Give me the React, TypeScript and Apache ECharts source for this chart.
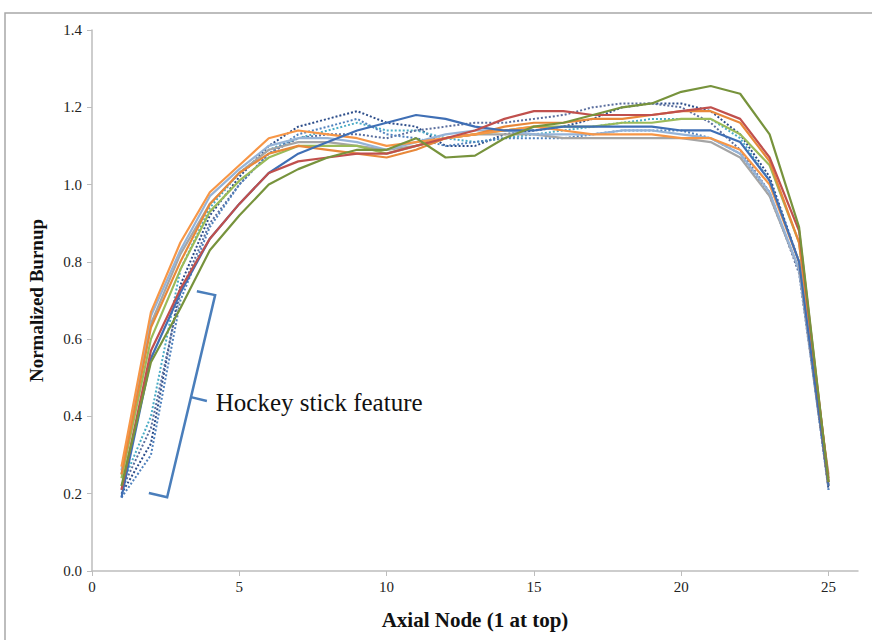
import React, { useEffect, useRef } from "react";
import * as echarts from "echarts";

const nodes = [1, 2, 3, 4, 5, 6, 7, 8, 9, 10, 11, 12, 13, 14, 15, 16, 17, 18, 19, 20, 21, 22, 23, 24, 25];
const xTicks = [0, 5, 10, 15, 20, 25];

const blueSolid = [0.19, 0.55, 0.72, 0.86, 0.95, 1.03, 1.08, 1.11, 1.14, 1.16, 1.18, 1.17, 1.15, 1.14, 1.14, 1.15, 1.15, 1.15, 1.15, 1.14, 1.14, 1.11, 1.01, 0.8, 0.22];
const redSolid = [0.21, 0.57, 0.73, 0.86, 0.95, 1.03, 1.06, 1.07, 1.08, 1.08, 1.1, 1.12, 1.14, 1.17, 1.19, 1.19, 1.18, 1.18, 1.18, 1.19, 1.2, 1.17, 1.07, 0.88, 0.23];
const oliveSolid = [0.22, 0.54, 0.68, 0.83, 0.92, 1.0, 1.04, 1.07, 1.09, 1.09, 1.12, 1.07, 1.075, 1.12, 1.15, 1.16, 1.18, 1.2, 1.21, 1.24, 1.255, 1.235, 1.13, 0.89, 0.23];
const greenSolid = [0.24, 0.6, 0.78, 0.93, 1.01, 1.07, 1.1, 1.1, 1.1, 1.08, 1.1, 1.12, 1.13, 1.14, 1.15, 1.15, 1.15, 1.16, 1.16, 1.17, 1.17, 1.13, 1.05, 0.85, 0.23];
const orangeSolid = [0.27, 0.67, 0.85, 0.98, 1.05, 1.12, 1.14, 1.13, 1.12, 1.1, 1.11, 1.12, 1.13, 1.14, 1.15, 1.14, 1.13, 1.13, 1.13, 1.12, 1.12, 1.09, 1.0, 0.8, 0.22];
const darkOrangeSolid = [0.25, 0.63, 0.8, 0.95, 1.03, 1.08, 1.1, 1.09, 1.08, 1.07, 1.09, 1.12, 1.13, 1.15, 1.16, 1.16, 1.17, 1.17, 1.18, 1.19, 1.19, 1.16, 1.06, 0.85, 0.24];
const lightBlueSolid = [0.26, 0.66, 0.83, 0.97, 1.04, 1.1, 1.12, 1.12, 1.11, 1.09, 1.11, 1.13, 1.14, 1.14, 1.13, 1.13, 1.13, 1.14, 1.14, 1.13, 1.12, 1.08, 0.98, 0.78, 0.24];
const graySolid = [0.25, 0.64, 0.82, 0.95, 1.03, 1.09, 1.11, 1.11, 1.1, 1.09, 1.1, 1.12, 1.13, 1.13, 1.13, 1.12, 1.12, 1.12, 1.12, 1.12, 1.11, 1.07, 0.97, 0.78, 0.25];
const navyDotted = [0.2, 0.33, 0.74, 0.92, 1.02, 1.1, 1.15, 1.17, 1.19, 1.16, 1.15, 1.1, 1.1, 1.13, 1.14, 1.15, 1.17, 1.2, 1.21, 1.21, 1.19, 1.13, 1.02, 0.8, 0.21];
const aquaDotted = [0.22, 0.4, 0.78, 0.94, 1.03, 1.09, 1.12, 1.14, 1.16, 1.14, 1.14, 1.12, 1.11, 1.12, 1.13, 1.14, 1.15, 1.16, 1.17, 1.17, 1.17, 1.12, 1.01, 0.8, 0.22];
const slateDotted = [0.21, 0.37, 0.72, 0.9, 1.0, 1.08, 1.12, 1.13, 1.13, 1.12, 1.14, 1.15, 1.16, 1.16, 1.17, 1.18, 1.2, 1.21, 1.21, 1.2, 1.16, 1.09, 0.98, 0.77, 0.22];
const blueDotted = [0.19, 0.3, 0.7, 0.89, 1.0, 1.08, 1.13, 1.15, 1.17, 1.13, 1.12, 1.1, 1.11, 1.12, 1.12, 1.12, 1.13, 1.14, 1.14, 1.14, 1.12, 1.08, 0.97, 0.78, 0.21];

const seriesDefs = [
  { name: "S9", values: navyDotted, color: "#2C4D8A", dotted: true },
  { name: "S10", values: aquaDotted, color: "#4BACC6", dotted: true },
  { name: "S11", values: slateDotted, color: "#5A6E9E", dotted: true },
  { name: "S12", values: blueDotted, color: "#4F81BD", dotted: true },
  { name: "S8", values: graySolid, color: "#A5A5A5", dotted: false },
  { name: "S7", values: lightBlueSolid, color: "#95B3D7", dotted: false },
  { name: "S4", values: greenSolid, color: "#9BBB59", dotted: false },
  { name: "S6", values: darkOrangeSolid, color: "#E8883A", dotted: false },
  { name: "S5", values: orangeSolid, color: "#F79646", dotted: false },
  { name: "S1", values: blueSolid, color: "#3F6FB5", dotted: false },
  { name: "S2", values: redSolid, color: "#C0504D", dotted: false },
  { name: "S3", values: oliveSolid, color: "#77933C", dotted: false },
];

// bracket annotation in data coordinates
const bracketPts = [
  [3.56, 0.724],
  [4.18, 0.714],
  [3.36, 0.45],
  [2.55, 0.191],
  [1.93, 0.202],
];
const bracketStub = [
  [3.36, 0.45],
  [3.9, 0.44],
];
const annotationAt = [4.2, 0.437];
const annotationText = "Hockey stick feature";

export default function App() {
  const ref = useRef<HTMLDivElement>(null);
  useEffect(() => {
    document.body.style.margin = "0";
    if (!ref.current) return;
    const chart = echarts.init(ref.current, undefined, { renderer: "svg" });
    const serif = "Liberation Serif, Times New Roman, serif";
    chart.setOption({
      animation: false,
      backgroundColor: "#ffffff",
      grid: { left: 92, right: 14, top: 30, bottom: 69 },
      xAxis: {
        type: "value",
        min: 0,
        max: 26,
        interval: 5,
        name: "Axial Node (1 at top)",
        nameLocation: "middle",
        nameGap: 38,
        nameTextStyle: { fontFamily: serif, fontWeight: "bold", fontSize: 21, color: "#111" },
        axisLine: { lineStyle: { color: "#BDBDBD", width: 1.5 } },
        axisTick: { show: true, length: 5, customValues: xTicks, lineStyle: { color: "#BDBDBD" } },
        axisLabel: { customValues: xTicks, fontFamily: serif, fontSize: 15, color: "#222", margin: 8 },
        splitLine: { show: false },
      },
      yAxis: {
        type: "value",
        min: 0,
        max: 1.4,
        interval: 0.2,
        name: "Normalized Burnup",
        nameLocation: "middle",
        nameGap: 46,
        nameTextStyle: { fontFamily: serif, fontWeight: "bold", fontSize: 19, color: "#111" },
        axisLine: { show: true, lineStyle: { color: "#BDBDBD", width: 1.5 } },
        axisTick: { show: true, length: 5, lineStyle: { color: "#BDBDBD" } },
        axisLabel: {
          fontFamily: serif,
          fontSize: 15,
          color: "#222",
          margin: 10,
          formatter: (v: number) => v.toFixed(1),
        },
        splitLine: { show: false },
      },
      series: seriesDefs.map((s) => ({
        name: s.name,
        type: "line",
        data: nodes.map((n, i) => [n, s.values[i]]),
        showSymbol: false,
        symbol: "none",
        lineStyle: { color: s.color, width: s.dotted ? 2 : 2.2, type: s.dotted ? [2, 2] : "solid" },
        itemStyle: { color: s.color },
        z: s.dotted ? 2 : 3,
      })),
    });
    const px = (p: number[]) => chart.convertToPixel({ gridIndex: 0 }, p) as number[];
    const tp = px(annotationAt);
    chart.setOption({
      graphic: [
        {
          type: "rect",
          shape: { x: 5, y: 13, width: 900, height: 700 },
          style: { fill: "none", stroke: "#A8A8A8", lineWidth: 1.5 },
          silent: true,
        },
        {
          type: "polyline",
          shape: { points: bracketPts.map(px) },
          style: { fill: "none", stroke: "#4A7EBB", lineWidth: 2.5 },
        },
        {
          type: "polyline",
          shape: { points: bracketStub.map(px) },
          style: { fill: "none", stroke: "#4A7EBB", lineWidth: 2.5 },
        },
        {
          type: "text",
          x: tp[0],
          y: tp[1],
          style: {
            text: annotationText,
            fontFamily: serif,
            fontSize: 25,
            fill: "#111",
            verticalAlign: "middle",
            align: "left",
          },
        },
      ],
    });
    return () => chart.dispose();
  }, []);
  return <div ref={ref} style={{ width: 872, height: 640 }} />;
}
